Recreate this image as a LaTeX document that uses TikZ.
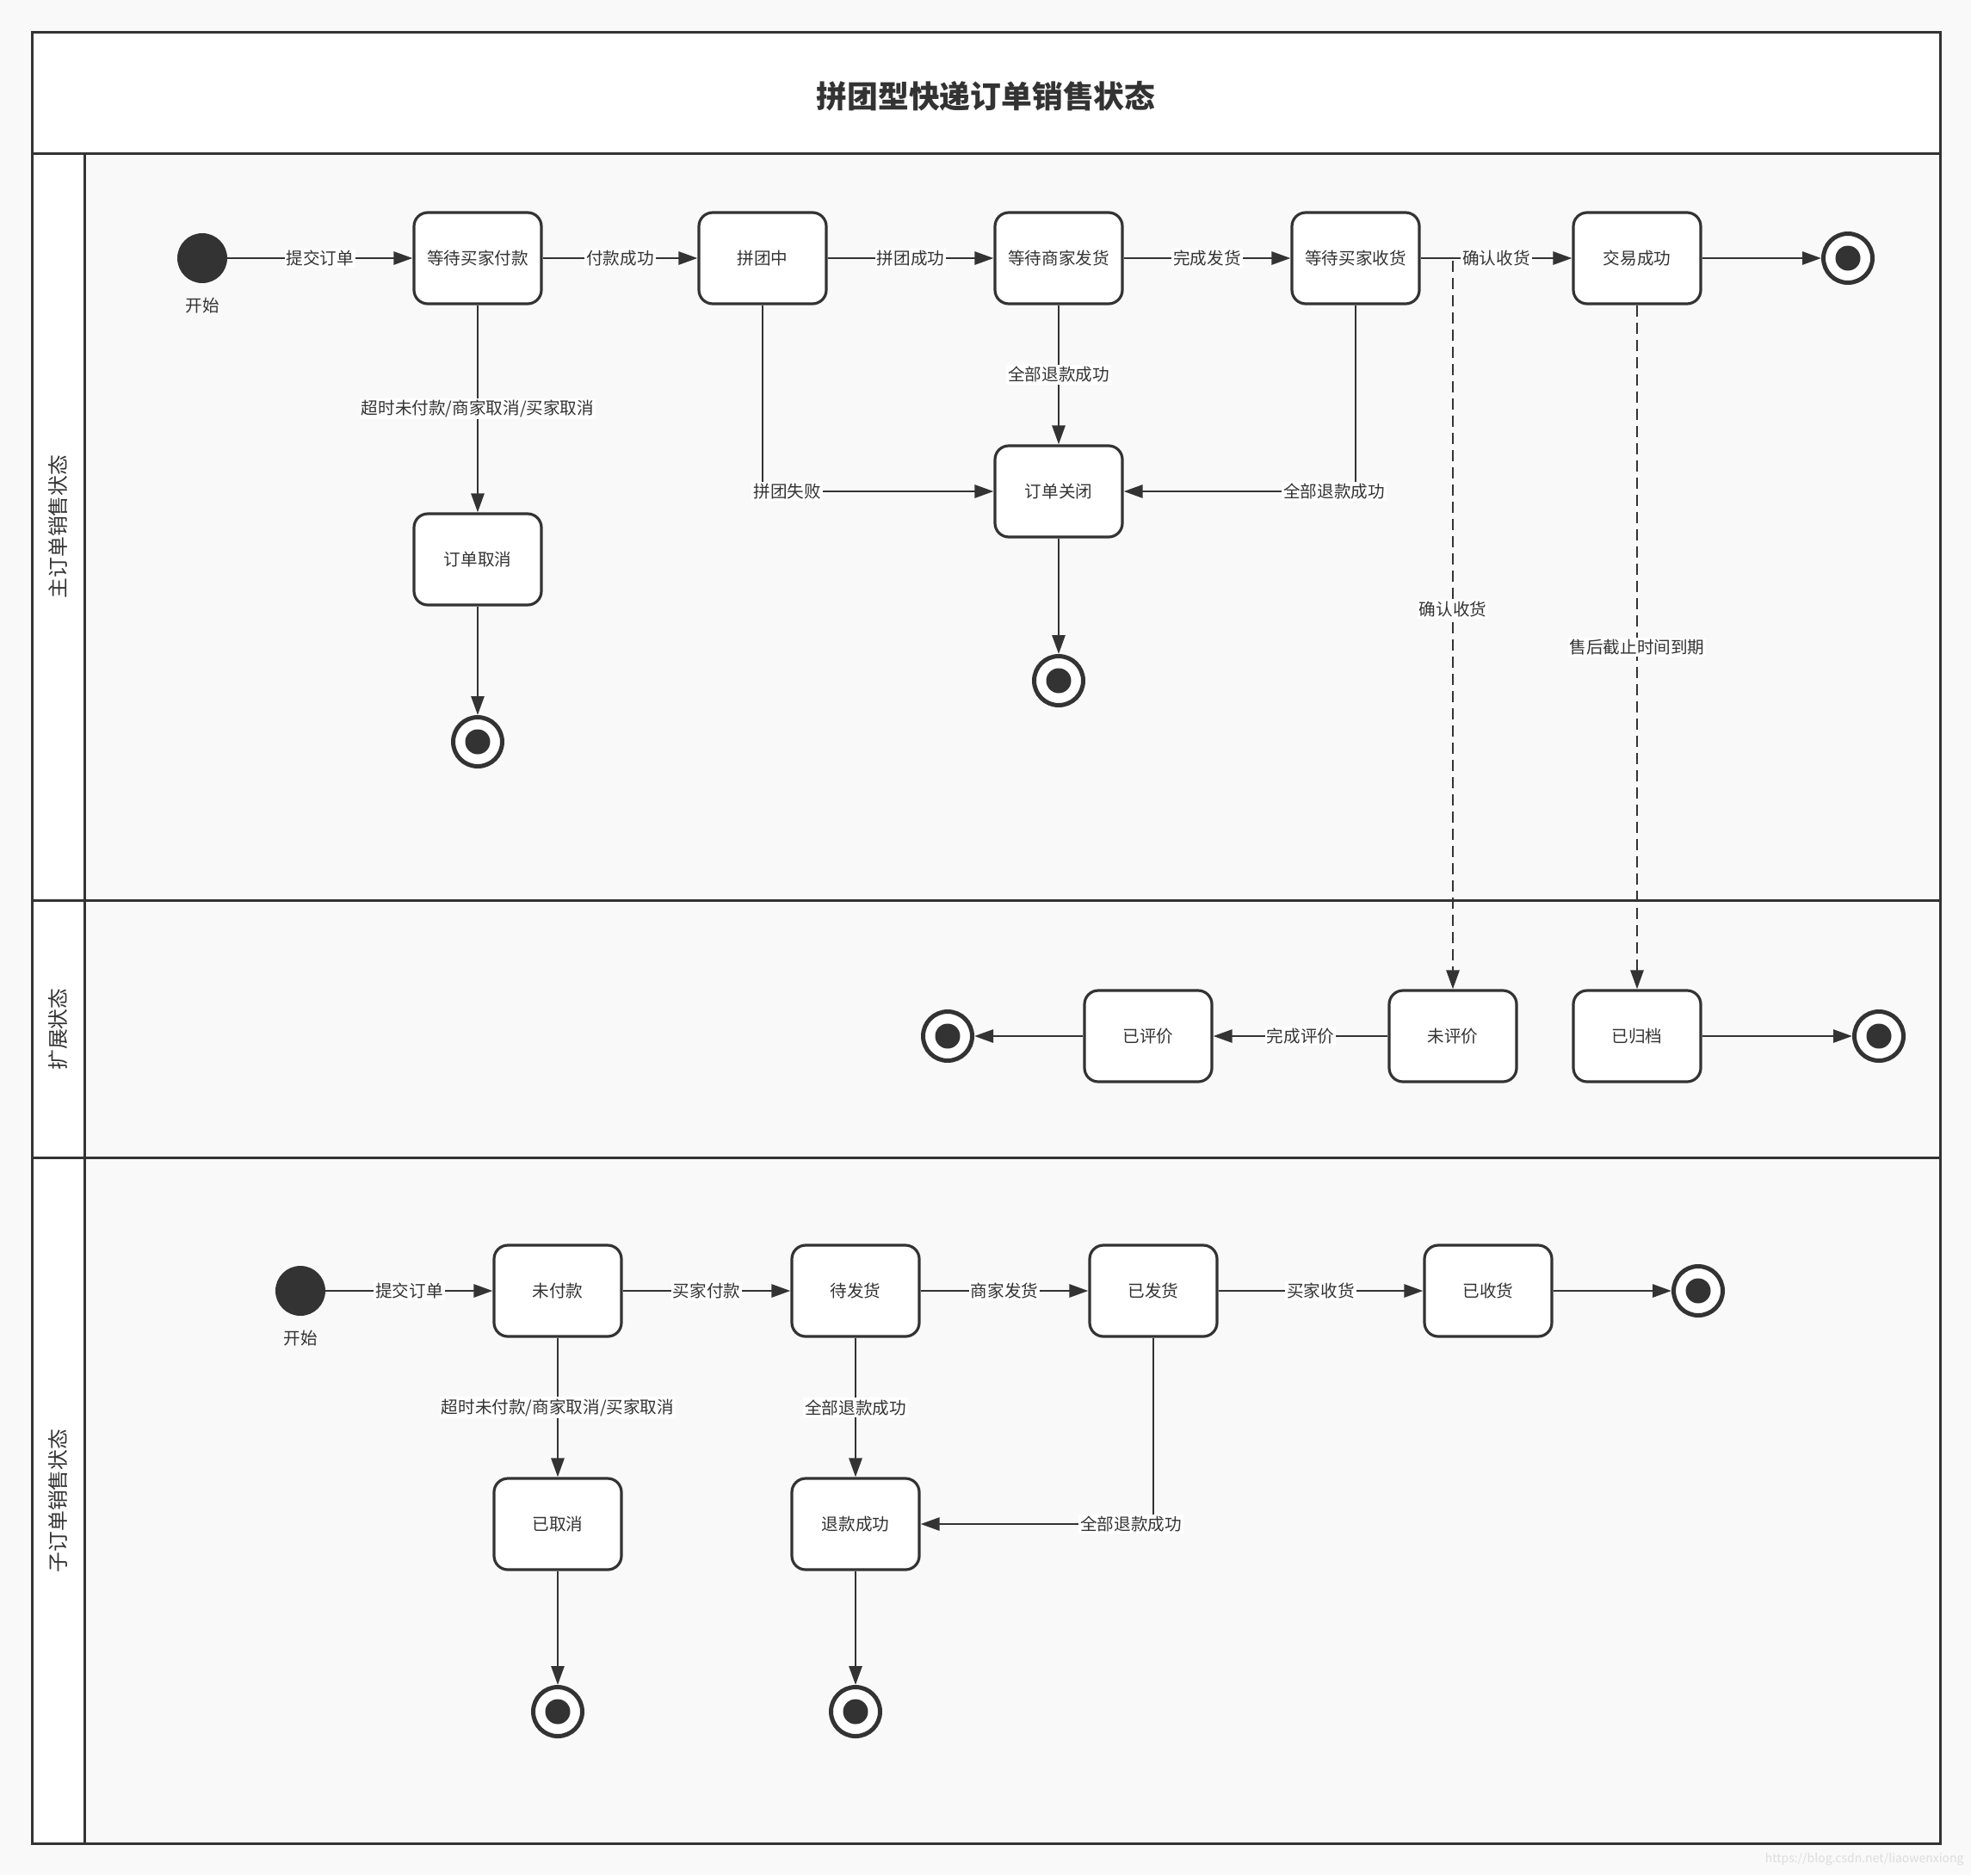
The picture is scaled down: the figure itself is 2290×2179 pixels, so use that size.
\documentclass[tikz,border=0pt]{standalone}
\usepackage{fontspec}
\setmainfont{Noto Sans CJK SC}
\usetikzlibrary{arrows.meta}
\definecolor{ink}{HTML}{333333}
\definecolor{pagebg}{HTML}{F9F9F9}
\definecolor{wm}{HTML}{DDDDDD}
\newcommand{\lblfont}{\fontsize{9.8pt}{11pt}\selectfont}
\newcommand{\lanefont}{\fontsize{11.9pt}{13pt}\selectfont}
\newcommand{\titlefont}{\fontsize{17.9pt}{20pt}\selectfont\bfseries}
\tikzset{
  stbox/.style={rectangle, rounded corners=8pt, draw=ink, line width=1.6pt, fill=white,
    minimum width=74pt, minimum height=53pt, font=\lblfont, text=ink, inner sep=1pt},
  startst/.style={circle, fill=ink, minimum size=29pt, inner sep=0pt},
  endst/.style={circle, draw=ink, line width=2.5pt, fill=white, minimum size=28.5pt, inner sep=0pt,
    path picture={\fill[ink] (path picture bounding box.center) circle (7.25pt);}},
  edge/.style={draw=ink, line width=1.4pt, -{Triangle[length=11pt,width=7.5pt]}},
  dedge/.style={edge, dash pattern=on 6.5pt off 3.5pt},
  lbl/.style={fill=white, font=\lblfont, text=ink, inner sep=1pt},
  plaintext/.style={font=\lblfont, text=ink, inner sep=0pt},
  lanetext/.style={font=\lanefont, text=ink, rotate=90, inner sep=0pt},
  frameline/.style={draw=ink, line width=1.5pt},
}
\begin{document}
\begin{tikzpicture}[x=0.5pt, y=-0.5pt]
\useasboundingbox (0,0) rectangle (2290,2179);
\fill[pagebg] (0,0) rectangle (2290,2179);
\fill[white] (37,37) rectangle (2254,178);
\fill[white] (37,178) rectangle (98,2142);
\draw[frameline] (37,37) rectangle (2254,2142);
\draw[frameline] (37,178) -- (2254,178);
\draw[frameline] (37,1046) -- (2254,1046);
\draw[frameline] (37,1345) -- (2254,1345);
\draw[frameline] (98,178) -- (98,2142);

\node[font=\titlefont, text=ink] (title) at (1145.5,112) {拼团型快递订单销售状态};
\node[lanetext] (lane1) at (67.5,612) {主订单销售状态};
\node[lanetext] (lane2) at (67.5,1196) {扩展状态};
\node[lanetext] (lane3) at (67.5,1744) {子订单销售状态};

% ---- lane 1 ----
\node[startst] (s1) at (235,300) {};
\node[plaintext] (s1l) at (235,355) {开始};
\node[stbox] (a1) at (555,300) {等待买家付款};
\node[stbox] (a2) at (886,300) {拼团中};
\node[stbox] (a3) at (1230,300) {等待商家发货};
\node[stbox] (a4) at (1575,300) {等待买家收货};
\node[stbox] (a5) at (1902,300) {交易成功};
\node[endst] (e1) at (2147,300) {};
\node[stbox] (a6) at (555,650) {订单取消};
\node[endst] (e2) at (555,862) {};
\node[stbox] (a7) at (1230,571) {订单关闭};
\node[endst] (e3) at (1230,791) {};

% ---- lane 2 ----
\node[stbox] (b1) at (1688,1204) {未评价};
\node[stbox] (b2) at (1334,1204) {已评价};
\node[stbox] (b3) at (1902,1204) {已归档};
\node[endst] (e4) at (1101,1204) {};
\node[endst] (e5) at (2183,1204) {};

% ---- lane 3 ----
\node[startst] (s2) at (349,1500) {};
\node[plaintext] (s2l) at (349,1555) {开始};
\node[stbox] (c1) at (648,1500) {未付款};
\node[stbox] (c2) at (994,1500) {待发货};
\node[stbox] (c3) at (1340,1500) {已发货};
\node[stbox] (c4) at (1729,1500) {已收货};
\node[endst] (e6) at (1973,1500) {};
\node[stbox] (c5) at (648,1771) {已取消};
\node[stbox] (c6) at (994,1771) {退款成功};
\node[endst] (e7) at (648,1989) {};
\node[endst] (e8) at (994,1989) {};

% ---- edges lane 1 ----
\draw[edge] (s1) -- node[lbl] {提交订单} (a1);
\draw[edge] (a1) -- node[lbl] {付款成功} (a2);
\draw[edge] (a2) -- node[lbl] {拼团成功} (a3);
\draw[edge] (a3) -- node[lbl] {完成发货} (a4);
\draw[edge] (a4) -- node[lbl] {确认收货} (a5);
\draw[edge] (a5) -- (e1);
\draw[edge] (a1) -- node[lbl] {超时未付款/商家取消/买家取消} (a6);
\draw[edge] (a6) -- (e2);
\draw[edge] (a3) -- node[lbl] {全部退款成功} (a7);
\draw[edge] (a2.south) |- node[lbl, pos=0.5, anchor=west, xshift=-7pt] {拼团失败} (a7.west);
\draw[edge] (a4.south) |- node[lbl, pos=0.5, xshift=-12.5pt] {全部退款成功} (a7.east);
\draw[edge] (a7) -- (e3);
\draw[dedge] (a4.east) -| node[lbl, pos=0.74] {确认收货} (b1.north);
\draw[dedge] (a5) -- node[lbl] {售后截止时间到期} (b3);

% ---- edges lane 2 ----
\draw[edge] (b1) -- node[lbl] {完成评价} (b2);
\draw[edge] (b2) -- (e4);
\draw[edge] (b3) -- (e5);

% ---- edges lane 3 ----
\draw[edge] (s2) -- node[lbl] {提交订单} (c1);
\draw[edge] (c1) -- node[lbl] {买家付款} (c2);
\draw[edge] (c2) -- node[lbl] {商家发货} (c3);
\draw[edge] (c3) -- node[lbl] {买家收货} (c4);
\draw[edge] (c4) -- (e6);
\draw[edge] (c1) -- node[lbl] {超时未付款/商家取消/买家取消} (c5);
\draw[edge] (c2) -- node[lbl] {全部退款成功} (c6);
\draw[edge] (c3.south) |- node[lbl, pos=0.5, xshift=-13pt] {全部退款成功} (c6.east);
\draw[edge] (c5) -- (e7);
\draw[edge] (c6) -- (e8);

\node[anchor=east, text=wm, font=\fontsize{7pt}{8pt}\selectfont, inner sep=0pt] (wmark) at (2282,2161) {https://blog.csdn.net/liaowenxiong};
\end{tikzpicture}
\end{document}
